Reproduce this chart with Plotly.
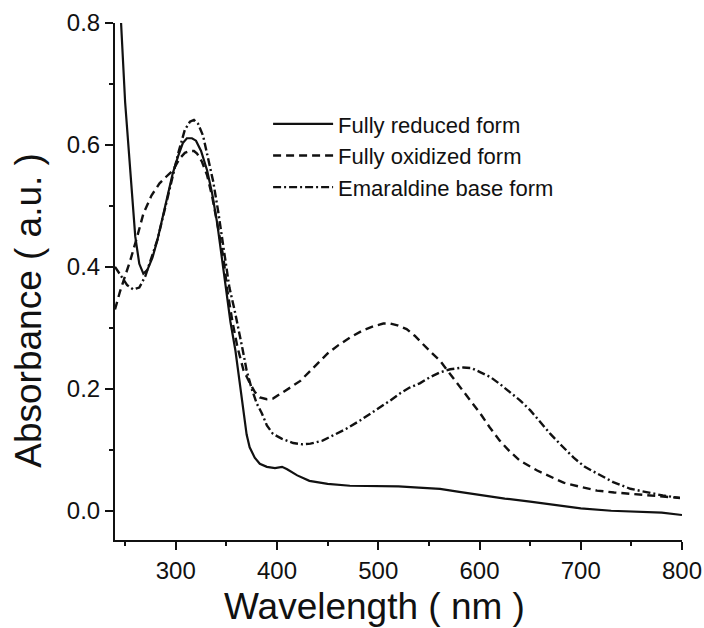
import plotly.graph_objects as go

# Fully reduced form (solid)
red_wl = [243, 246, 250, 255, 260, 264, 268, 272, 277, 282, 287, 292, 297, 302, 307, 311, 316, 320,
          325, 331, 336, 341, 345, 349, 354, 359, 363, 367, 370, 373, 378, 383, 390, 398, 405, 410,
          420, 432, 450, 472, 500, 520, 540, 561, 580, 600, 625, 650, 680, 700, 730, 760, 780, 800]
red_abs = [0.92, 0.80, 0.67, 0.56, 0.45, 0.405, 0.389, 0.395, 0.415, 0.445, 0.48, 0.515, 0.553, 0.58,
           0.603, 0.611, 0.611, 0.607, 0.59, 0.558, 0.52, 0.471, 0.42, 0.366, 0.31, 0.262, 0.21, 0.155,
           0.125, 0.104, 0.087, 0.077, 0.072, 0.070, 0.072, 0.068, 0.058, 0.049, 0.044, 0.041, 0.040,
           0.040, 0.038, 0.036, 0.031, 0.026, 0.020, 0.015, 0.008, 0.004, 0.0, -0.002, -0.003, -0.007]

# Fully oxidized form (dashed)
oxi_wl = [240, 245, 250, 255, 262, 268, 276, 284, 290, 297, 304, 309, 314, 318, 321, 326, 331, 336,
          341, 347, 351, 356, 361, 367, 373, 378, 383, 390, 396, 405, 414, 423, 436, 450, 461, 472,
          485, 496, 505, 512, 519, 528, 536, 544, 552, 561, 571, 581, 591, 601, 610, 620, 630, 640,
          657, 673, 683, 700, 716, 733, 749, 765, 781, 798]
oxi_abs = [0.33, 0.36, 0.385, 0.41, 0.45, 0.487, 0.517, 0.537, 0.547, 0.558, 0.578, 0.587, 0.59,
           0.59, 0.586, 0.572, 0.55, 0.515, 0.471, 0.416, 0.361, 0.31, 0.268, 0.23, 0.21, 0.195,
           0.186, 0.183, 0.184, 0.193, 0.203, 0.213, 0.235, 0.258, 0.272, 0.284, 0.296, 0.303,
           0.307, 0.307, 0.304, 0.298, 0.287, 0.273, 0.26, 0.246, 0.224, 0.202, 0.18, 0.159, 0.137,
           0.115, 0.097, 0.082, 0.066, 0.054, 0.046, 0.039, 0.033, 0.030, 0.028, 0.025, 0.023, 0.021]

# Emaraldine base form (dash-dot)
eme_wl = [240, 246, 252, 258, 264, 270, 276, 282, 290, 297, 303, 309, 314, 318, 322, 327, 332, 337,
          342, 347, 353, 358, 362, 366, 370, 375, 380, 385, 390, 396, 405, 416, 425, 433, 445, 455,
          468, 482, 495, 505, 512, 522, 531, 541, 551, 561, 571, 584, 592, 601, 611, 620, 630, 640,
          650, 660, 670, 681, 693, 704, 716, 732, 749, 765, 781, 798]
eme_abs = [0.40, 0.385, 0.37, 0.363, 0.366, 0.385, 0.415, 0.445, 0.50, 0.55, 0.59, 0.625, 0.638,
           0.641, 0.635, 0.615, 0.58, 0.54, 0.49, 0.435, 0.366, 0.33, 0.30, 0.265, 0.23, 0.20, 0.176,
           0.16, 0.14, 0.126, 0.118, 0.111, 0.109, 0.110, 0.115, 0.123, 0.134, 0.148, 0.162, 0.172,
           0.181, 0.193, 0.202, 0.209, 0.219, 0.227, 0.232, 0.235, 0.234, 0.227, 0.219, 0.208,
           0.195, 0.181, 0.165, 0.146, 0.126, 0.107, 0.087, 0.072, 0.061, 0.047, 0.036, 0.030,
           0.025, 0.021]

x_ticks = [300, 400, 500, 600, 700, 800]
y_ticks = [0.0, 0.2, 0.4, 0.6, 0.8]
y_ticktext = ["0.0", "0.2", "0.4", "0.6", "0.8"]
x_title = "Wavelength ( nm )"
y_title = "Absorbance ( a.u. )"

FONT = "Liberation Sans, Arial, sans-serif"
INK = "#111111"

fig = go.Figure()
fig.add_trace(go.Scatter(x=red_wl, y=red_abs, mode="lines", name="Fully reduced form",
                         line=dict(color=INK, width=2.2, dash="solid")))
fig.add_trace(go.Scatter(x=oxi_wl, y=oxi_abs, mode="lines", name="Fully oxidized form",
                         line=dict(color=INK, width=2.4, dash="8px,5px")))
fig.add_trace(go.Scatter(x=eme_wl, y=eme_abs, mode="lines", name="Emaraldine base form",
                         line=dict(color=INK, width=2.4, dash="8px,3px,2px,3px")))

fig.update_layout(
    width=704, height=628,
    margin=dict(l=115, r=22, t=23, b=88, autoexpand=False),
    paper_bgcolor="white", plot_bgcolor="white",
    font=dict(family=FONT, color=INK),
    showlegend=True,
    legend=dict(x=0.27, y=0.845, xanchor="left", yanchor="top",
                bgcolor="rgba(0,0,0,0)", font=dict(size=22, family=FONT, color=INK),
                itemwidth=60, tracegroupgap=0),
    annotations=[
        dict(text=x_title, xref="paper", yref="paper", x=0.457, y=-0.128,
             xanchor="center", yanchor="middle", showarrow=False,
             font=dict(size=37, family=FONT, color=INK)),
        dict(text=y_title, xref="paper", yref="paper", x=-0.152, y=0.445,
             xanchor="center", yanchor="middle", showarrow=False, textangle=-90,
             font=dict(size=37, family=FONT, color=INK)),
    ],
)

fig.update_xaxes(
    range=[240, 800], showgrid=False, zeroline=False, automargin=False,
    showline=True, linecolor=INK, linewidth=2, mirror=False,
    ticks="outside", ticklen=8, tickwidth=2, tickcolor=INK,
    tickmode="array", tickvals=x_ticks,
    tickfont=dict(size=24, family=FONT, color=INK),
    minor=dict(ticks="outside", ticklen=4, tickwidth=2, tickcolor=INK, dtick=50, tick0=250),
)
fig.update_yaxes(
    range=[-0.048, 0.8], showgrid=False, zeroline=False, automargin=False,
    showline=True, linecolor=INK, linewidth=2, mirror=False,
    ticks="outside", ticklen=8, tickwidth=2, tickcolor=INK,
    tickmode="array", tickvals=y_ticks, ticktext=y_ticktext,
    tickfont=dict(size=24, family=FONT, color=INK),
    minor=dict(ticks="outside", ticklen=4, tickwidth=2, tickcolor=INK, dtick=0.1, tick0=0.1),
)

fig.write_html("out.html")
